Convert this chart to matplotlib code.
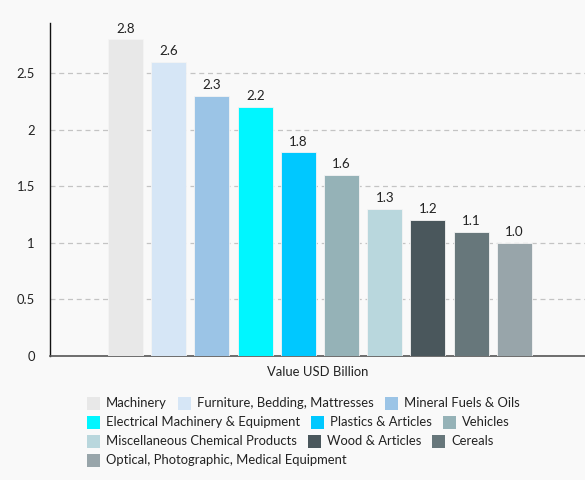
import matplotlib
matplotlib.use("Agg")
import matplotlib.pyplot as plt
from matplotlib.patches import Rectangle

categories = ["Machinery", "Furniture, Bedding, Mattresses", "Mineral Fuels & Oils",
              "Electrical Machinery & Equipment", "Plastics & Articles", "Vehicles",
              "Miscellaneous Chemical Products", "Wood & Articles", "Cereals",
              "Optical, Photographic, Medical Equipment"]
values = [2.8, 2.6, 2.3, 2.2, 1.8, 1.6, 1.3, 1.2, 1.1, 1.0]
colors = ["#e8e8e8", "#d6e6f6", "#9bc4e6", "#00f6ff", "#00c8ff", "#95b2b7",
          "#b9d7dd", "#4a575c", "#67777b", "#98a5aa"]
group_label = "Value USD Billion"
yticks = [0, 0.5, 1, 1.5, 2, 2.5]
ytick_labels = ["0", "0.5", "1", "1.5", "2", "2.5"]
legend_rows = [[0, 1, 2], [3, 4, 5], [6, 7, 8], [9]]

plt.rcParams['font.family'] = ['Lato', 'DejaVu Sans']
W, H = 585, 480
bg = "#f9f9f9"
txt = "#222222"
fs = 9.35
fig = plt.figure(figsize=(W / 100, H / 100), dpi=100, facecolor=bg)
ax = fig.add_axes([50 / W, (480 - 356) / H, 1 - 50 / W, (356 - 23) / H], facecolor=bg)

n = len(values)
pitch = 43.2 / 535
width = 35 / 535
for i, (v, c) in enumerate(zip(values, colors)):
    x = (i - (n - 1) / 2) * pitch
    ax.bar(x, v, width=width, color=c, edgecolor="#f4f4f4", linewidth=0.6, zorder=3)
    ax.annotate(f"{v:.1f}", (x, v), xytext=(0, 3.5), textcoords="offset points",
                ha="center", va="bottom", fontsize=fs + 0.3, color=txt)

shift = 2.5 / 535
ax.set_xlim(-0.5 - shift, 0.5 - shift)
ax.set_ylim(0, 2.945)
ax.set_yticks(yticks)
ax.set_yticklabels(ytick_labels, fontsize=fs, color=txt)
ax.set_xticks([-shift])
ax.set_xticklabels([group_label], fontsize=fs, color=txt)
ax.tick_params(axis="both", length=0)
ax.tick_params(axis="y", pad=11)
ax.tick_params(axis="x", pad=7)
ax.grid(axis="y", linestyle=(0, (4, 3)), color="#c4c4c4", linewidth=0.9, zorder=0)
for s in ["top", "right"]:
    ax.spines[s].set_visible(False)
ax.spines["left"].set_color("#111111")
ax.spines["left"].set_linewidth(1.0)
ax.spines["bottom"].set_color("#555555")
ax.spines["bottom"].set_linewidth(1.2)

# flow-style legend
fig.canvas.draw()
renderer = fig.canvas.get_renderer()
x0 = 87
row_y = [403, 422, 441, 460]
box = 13
for r, row in enumerate(legend_rows):
    x = x0
    yc = row_y[r]
    for idx in row:
        fig.patches.append(Rectangle((x / W, (H - yc - box / 2) / H), box / W, box / H,
                                     transform=fig.transFigure, facecolor=colors[idx],
                                     edgecolor="none", figure=fig))
        t = fig.text((x + box + 6) / W, (H - yc) / H, categories[idx], ha="left",
                     va="center", fontsize=fs, color=txt)
        bb = t.get_window_extent(renderer)
        x = x + box + 6 + bb.width + 11

fig.savefig("out.png", dpi=100, facecolor=bg)
